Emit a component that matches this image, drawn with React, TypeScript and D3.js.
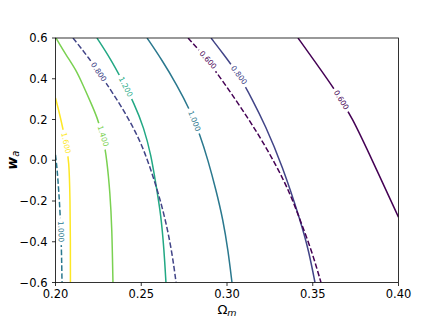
import React from 'react'
import * as d3 from 'd3'

// Contours of Ω_m vs w_a
const W = 443
const H = 317
const MARGIN = { top: 38, right: 44.5, bottom: 34.5, left: 55.5 }

const xTicks = [0.2, 0.25, 0.3, 0.35, 0.4]
const yTicks = [-0.6, -0.4, -0.2, 0.0, 0.2, 0.4, 0.6]

// solid family: levels + [Ω_m, w_a] points
const solidLevels = [0.6, 0.8, 1.0, 1.2, 1.4, 1.6]
const solidLabelW = [0.296, 0.418, 0.193, 0.36, 0.119, 0.085]
const solid060 = [[0.3414, 0.6], [0.3519, 0.477], [0.3630, 0.345], [0.3729, 0.212], [0.3846, 0.001], [0.4, -0.279]]
const solid080 = [[0.2907, 0.6], [0.2983, 0.517], [0.307, 0.418], [0.3146, 0.301], [0.3222, 0.173], [0.3321, -0.023], [0.3431, -0.303], [0.3478, -0.45], [0.3513, -0.6]]
const solid100 = [[0.2534, 0.6], [0.2621, 0.492], [0.2708, 0.369], [0.2784, 0.247], [0.2843, 0.124], [0.2889, 0.001], [0.2936, -0.146], [0.2977, -0.293], [0.3006, -0.441], [0.3029, -0.6]]
const solid120 = [[0.2242, 0.6], [0.2318, 0.502], [0.2388, 0.394], [0.2458, 0.281], [0.2516, 0.158], [0.2557, 0.026], [0.2586, -0.121], [0.2615, -0.269], [0.2633, -0.441], [0.2644, -0.6]]
const solid140 = [[0.2003, 0.6], [0.2061, 0.517], [0.212, 0.443], [0.216, 0.369], [0.2207, 0.281], [0.2242, 0.212], [0.2277, 0.119], [0.23, 0.001], [0.2318, -0.161], [0.2329, -0.328], [0.2335, -0.6]]
const solid160 = [[0.2, 0.306], [0.2015, 0.257], [0.2032, 0.198], [0.2061, 0.085], [0.2079, 0.001], [0.2085, -0.195], [0.2087, -0.391], [0.2087, -0.6]]
const solidLines = [solid060, solid080, solid100, solid120, solid140, solid160]

// dashed family
const dashedLevels = [0.6, 0.8, 1.0]
const dashedLabelW = [0.492, 0.433, -0.35]
const dashed060 = [[0.2773, 0.6], [0.2889, 0.492], [0.3052, 0.296], [0.3175, 0.139], [0.3286, -0.023], [0.3367, -0.161], [0.3431, -0.303], [0.3496, -0.45], [0.3548, -0.6]]
const dashed080 = [[0.2102, 0.6], [0.2195, 0.502], [0.2283, 0.394], [0.2364, 0.291], [0.244, 0.183], [0.2504, 0.075], [0.2557, -0.048], [0.2603, -0.171], [0.2644, -0.303], [0.2679, -0.45], [0.2703, -0.6]]
const dashed100 = [[0.2, 0.026], [0.2009, -0.038], [0.202, -0.161], [0.2029, -0.293], [0.2035, -0.441], [0.2038, -0.6]]
const dashedLines = [dashed060, dashed080, dashed100]

const FONT = 'DejaVu Sans, sans-serif'
const LABEL_SIZE = 7.5
const TICK_SIZE = 11.5
const GAP = 27

export default function App() {
  const innerW = W - MARGIN.left - MARGIN.right
  const innerH = H - MARGIN.top - MARGIN.bottom
  const x = d3.scaleLinear().domain([0.2, 0.4]).range([MARGIN.left, MARGIN.left + innerW])
  const y = d3.scaleLinear().domain([-0.6, 0.6]).range([MARGIN.top + innerH, MARGIN.top])
  const color = d3.scaleSequential(d3.interpolateViridis).domain([0.6, 1.6])
  const fmt = d3.format('.3f')

  const line = d3.line<number[]>()
    .x((d) => x(d[0]))
    .y((d) => y(d[1]))
    .curve(d3.curveBasis)

  // where on the polyline the label sits, and its angle
  const labelAt = (pts: number[][], w: number) => {
    const yy = y(w)
    for (let i = 0; i < pts.length - 1; i++) {
      const x0 = x(pts[i][0]), y0 = y(pts[i][1])
      const x1 = x(pts[i + 1][0]), y1 = y(pts[i + 1][1])
      if ((yy - y0) * (yy - y1) <= 0) {
        const t = y1 === y0 ? 0 : (yy - y0) / (y1 - y0)
        const ang = (Math.atan2(y1 - y0, x1 - x0) * 180) / Math.PI
        return { px: x0 + t * (x1 - x0), py: yy, ang }
      }
    }
    return { px: x(pts[0][0]), py: y(pts[0][1]), ang: 0 }
  }

  const contours = [
    ...solidLines.map((pts, i) => ({ id: `s${i}`, pts, level: solidLevels[i], lw: solidLabelW[i], dashed: false })),
    ...dashedLines.map((pts, i) => ({ id: `d${i}`, pts, level: dashedLevels[i], lw: dashedLabelW[i], dashed: true })),
  ].map((c) => ({ ...c, lab: labelAt(c.pts, c.lw) }))

  return (
    <svg width={W} height={H} style={{ position: 'absolute', left: 0, top: 0, background: '#fff' }}>
      <defs>
        <clipPath id="plot">
          <rect x={MARGIN.left} y={MARGIN.top} width={innerW} height={innerH} />
        </clipPath>
        {contours.map((c) => (
          <mask id={`m-${c.id}`} key={c.id} maskUnits="userSpaceOnUse" x={0} y={0} width={W} height={H}>
            <rect x={0} y={0} width={W} height={H} fill="#fff" />
            <rect
              x={-GAP / 2} y={-5} width={GAP} height={10} fill="#000"
              transform={`translate(${c.lab.px},${c.lab.py}) rotate(${c.lab.ang})`}
            />
          </mask>
        ))}
      </defs>

      <g clipPath="url(#plot)">
        {contours.map((c) => (
          <path
            key={c.id}
            d={line(c.pts) ?? ''}
            fill="none"
            stroke={color(c.level)}
            strokeWidth={1.5}
            strokeDasharray={c.dashed ? '5.5,2.4' : undefined}
            mask={`url(#m-${c.id})`}
          />
        ))}
      </g>

      {contours.map((c) => (
        <text
          key={`t-${c.id}`}
          transform={`translate(${c.lab.px},${c.lab.py}) rotate(${c.lab.ang})`}
          textAnchor="middle"
          dominantBaseline="central"
          fontFamily={FONT}
          fontSize={LABEL_SIZE}
          fill={color(c.level)}
        >
          {fmt(c.level)}
        </text>
      ))}

      {/* frame */}
      <rect x={MARGIN.left} y={MARGIN.top} width={innerW} height={innerH} fill="none" stroke="#000" strokeWidth={0.8} />

      {/* x axis */}
      {xTicks.map((t) => (
        <g key={`x${t}`}>
          <line x1={x(t)} x2={x(t)} y1={MARGIN.top + innerH} y2={MARGIN.top + innerH + 3.5} stroke="#000" strokeWidth={0.8} />
          <text x={x(t)} y={MARGIN.top + innerH + 15} textAnchor="middle" fontFamily={FONT} fontSize={TICK_SIZE}>
            {d3.format('.2f')(t)}
          </text>
        </g>
      ))}
      {/* y axis */}
      {yTicks.map((t) => (
        <g key={`y${t}`}>
          <line x1={MARGIN.left - 3.5} x2={MARGIN.left} y1={y(t)} y2={y(t)} stroke="#000" strokeWidth={0.8} />
          <text x={MARGIN.left - 8} y={y(t)} textAnchor="end" dominantBaseline="central" fontFamily={FONT} fontSize={TICK_SIZE}>
            {d3.format('.1f')(t).replace('-', '\u2212')}
          </text>
        </g>
      ))}

      {/* axis labels */}
      <text x={MARGIN.left + innerW / 2} y={313.5} textAnchor="middle" fontFamily={FONT} fontSize={13}>
        <tspan>Ω</tspan>
        <tspan fontStyle="italic" fontSize={9.5} dy={2}>m</tspan>
      </text>
      <text
        transform={`translate(16.5,${MARGIN.top + innerH / 2}) rotate(-90)`}
        textAnchor="middle"
        fontFamily={FONT}
        fontSize={14}
      >
        <tspan fontStyle="italic" fontWeight="bold">w</tspan>
        <tspan fontStyle="italic" fontSize={10} dy={2.5}>a</tspan>
      </text>
    </svg>
  )
}
